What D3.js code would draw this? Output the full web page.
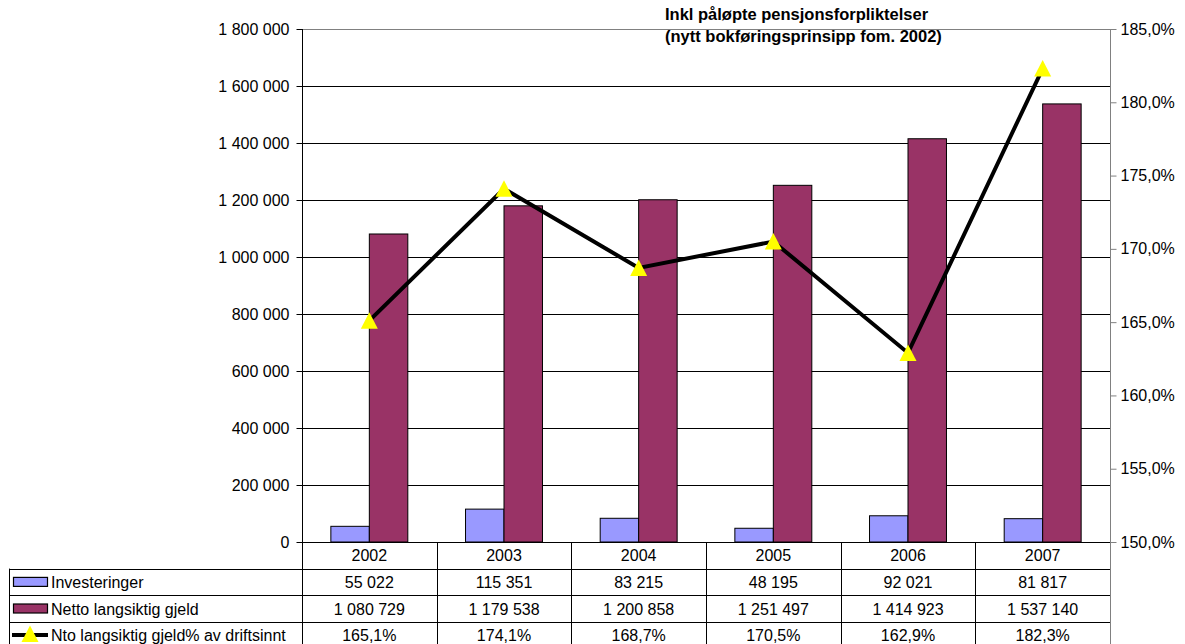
<!DOCTYPE html>
<html>
<head>
<meta charset="utf-8">
<script src="https://cdn.jsdelivr.net/npm/d3@7"></script>
<style>
  body { margin: 0; background: #fff; }
  svg { display: block; font-family: "Liberation Sans", Arial, sans-serif; }
</style>
</head>
<body>
<svg></svg>
<script>
// data
var years = ["2002", "2003", "2004", "2005", "2006", "2007"];
var investeringer = [55022, 115351, 83215, 48195, 92021, 81817];
var nettoGjeld = [1080729, 1179538, 1200858, 1251497, 1414923, 1537140];
var gjeldPct = [1.651, 1.741, 1.687, 1.705, 1.629, 1.823];
var leftTicks = [0, 200000, 400000, 600000, 800000, 1000000, 1200000, 1400000, 1600000, 1800000];
var rightTicks = [1.50, 1.55, 1.60, 1.65, 1.70, 1.75, 1.80, 1.85];
var seriesNames = ["Investeringer", "Netto langsiktig gjeld", "Nto langsiktig gjeld% av driftsinnt"];
var title = ["Inkl påløpte pensjonsforpliktelser", "(nytt bokføringsprinsipp fom. 2002)"];

var W = 1185, H = 644;
var plot = {left: 302, right: 1110, top: 29, bottom: 542};
var rowH = 26.6;
var tableLeft = 9;
var blue = "#9999ff", maroon = "#993366";

var nb = d3.formatLocale({decimal: ",", thousands: " ", grouping: [3], currency: ["", ""]});
var fmtNum = nb.format(",d");
var fmtPct = nb.format(".1%");

var svg = d3.select("svg").attr("width", W).attr("height", H);

var x = d3.scaleBand().domain(years).range([plot.left, plot.right]).padding(0);
var xs = d3.scaleBand().domain([0, 1]).range([0, x.bandwidth()]).paddingInner(0).paddingOuter(0.75);
var y = d3.scaleLinear().domain([0, 1800000]).range([plot.bottom, plot.top]);
var y2 = d3.scaleLinear().domain([1.5, 1.85]).range([plot.bottom, plot.top]);

// gridlines
svg.append("g").selectAll("line").data(leftTicks.slice(1, -1)).join("line")
  .attr("x1", plot.left).attr("x2", plot.right)
  .attr("y1", function(d) { return y(d) + 0.5; }).attr("y2", function(d) { return y(d) + 0.5; })
  .attr("stroke", "#000").attr("stroke-width", 1);
svg.append("line")
  .attr("x1", plot.left).attr("x2", plot.right)
  .attr("y1", plot.top + 0.5).attr("y2", plot.top + 0.5)
  .attr("stroke", "#808080");

// bars
var groups = svg.append("g").selectAll("g").data(years).join("g")
  .attr("transform", function(d) { return "translate(" + x(d) + ",0)"; });
groups.append("rect")
  .attr("x", xs(0)).attr("width", xs.bandwidth())
  .attr("y", function(d, i) { return y(investeringer[i]); })
  .attr("height", function(d, i) { return y(0) - y(investeringer[i]); })
  .attr("fill", blue).attr("stroke", "#000").attr("stroke-width", 1);
groups.append("rect")
  .attr("x", xs(1)).attr("width", xs.bandwidth())
  .attr("y", function(d, i) { return y(nettoGjeld[i]); })
  .attr("height", function(d, i) { return y(0) - y(nettoGjeld[i]); })
  .attr("fill", maroon).attr("stroke", "#000").attr("stroke-width", 1);

// line + markers
var cx = function(i) { return x(years[i]) + x.bandwidth() / 2; };
var line = d3.line().x(function(d, i) { return cx(i); }).y(function(d) { return y2(d); });
svg.append("path").datum(gjeldPct)
  .attr("d", line).attr("fill", "none")
  .attr("stroke", "#000").attr("stroke-width", 4).attr("stroke-linejoin", "miter");
var tri = "M0,-8.5L8.5,8L-8.5,8Z";
svg.append("g").selectAll("path").data(gjeldPct).join("path")
  .attr("transform", function(d, i) { return "translate(" + cx(i) + "," + y2(d) + ")"; })
  .attr("d", tri).attr("fill", "#ffff00");

// left axis
var gl = svg.append("g").attr("transform", "translate(" + (plot.left + 0.5) + ",0)")
  .call(d3.axisLeft(y).tickValues(leftTicks).tickFormat(fmtNum).tickSize(6).tickPadding(7));
gl.select(".domain").remove();
gl.selectAll(".tick line").attr("stroke", "#000");
gl.selectAll("text").attr("font-size", 16).attr("font-family", "Liberation Sans, Arial, sans-serif").attr("fill", "#000");
svg.append("line").attr("x1", plot.left + 0.5).attr("x2", plot.left + 0.5)
  .attr("y1", plot.top).attr("y2", H).attr("stroke", "#000");

// right axis
var gr = svg.append("g").attr("transform", "translate(" + (plot.right + 0.5) + ",0)")
  .call(d3.axisRight(y2).tickValues(rightTicks).tickFormat(fmtPct).tickSize(6).tickPadding(4));
gr.select(".domain").remove();
gr.selectAll(".tick line").attr("stroke", "#808080");
gr.selectAll("text").attr("font-size", 16).attr("font-family", "Liberation Sans, Arial, sans-serif").attr("fill", "#000");
svg.append("line").attr("x1", plot.right + 0.5).attr("x2", plot.right + 0.5)
  .attr("y1", plot.top).attr("y2", H).attr("stroke", "#808080");

// baseline
svg.append("line").attr("x1", plot.left).attr("x2", plot.right)
  .attr("y1", plot.bottom + 0.5).attr("y2", plot.bottom + 0.5).attr("stroke", "#000");

// data table
var tbl = svg.append("g");
var rowY = [plot.bottom, plot.bottom + rowH, plot.bottom + 2 * rowH, plot.bottom + 3 * rowH, plot.bottom + 4 * rowH];
tbl.selectAll("line.h").data(rowY.slice(1, 4)).join("line").attr("class", "h")
  .attr("x1", tableLeft).attr("x2", plot.right)
  .attr("y1", function(d) { return Math.round(d) + 0.5; }).attr("y2", function(d) { return Math.round(d) + 0.5; })
  .attr("stroke", "#000");
tbl.append("line").attr("x1", tableLeft + 0.5).attr("x2", tableLeft + 0.5)
  .attr("y1", rowY[1]).attr("y2", H).attr("stroke", "#000");
tbl.selectAll("line.v").data(years.slice(1)).join("line").attr("class", "v")
  .attr("x1", function(d) { return Math.round(x(d)) + 0.5; }).attr("x2", function(d) { return Math.round(x(d)) + 0.5; })
  .attr("y1", plot.bottom).attr("y2", H).attr("stroke", "#000");

var rows = [years, investeringer.map(fmtNum), nettoGjeld.map(fmtNum), gjeldPct.map(fmtPct)];
rows.forEach(function(vals, r) {
  tbl.append("g").selectAll("text").data(vals).join("text")
    .attr("x", function(d, i) { return cx(i); })
    .attr("y", rowY[r] + rowH / 2 + 6)
    .attr("text-anchor", "middle").attr("font-size", 16).attr("fill", "#000")
    .text(function(d) { return d; });
});

// row labels with legend keys
seriesNames.forEach(function(name, k) {
  var top = rowY[k + 1];
  var mid = top + rowH / 2;
  if (k < 2) {
    tbl.append("rect").attr("x", 13.5).attr("y", mid - 4.5).attr("width", 34).attr("height", 9)
      .attr("fill", k === 0 ? blue : maroon).attr("stroke", "#000").attr("stroke-width", 1.2);
  } else {
    tbl.append("line").attr("x1", 12).attr("x2", 48).attr("y1", mid).attr("y2", mid)
      .attr("stroke", "#000").attr("stroke-width", 4);
    tbl.append("path").attr("transform", "translate(30," + (mid - 1) + ")").attr("d", tri).attr("fill", "#ffff00");
  }
  tbl.append("text").attr("x", 51).attr("y", mid + 6)
    .attr("font-size", 16).attr("fill", "#000").text(name);
});

// title annotation
svg.append("g").selectAll("text").data(title).join("text")
  .attr("x", 665).attr("y", function(d, i) { return 20 + i * 22; })
  .attr("font-size", 16.5).attr("font-weight", "bold").attr("fill", "#000")
  .text(function(d) { return d; });
</script>
</body>
</html>
